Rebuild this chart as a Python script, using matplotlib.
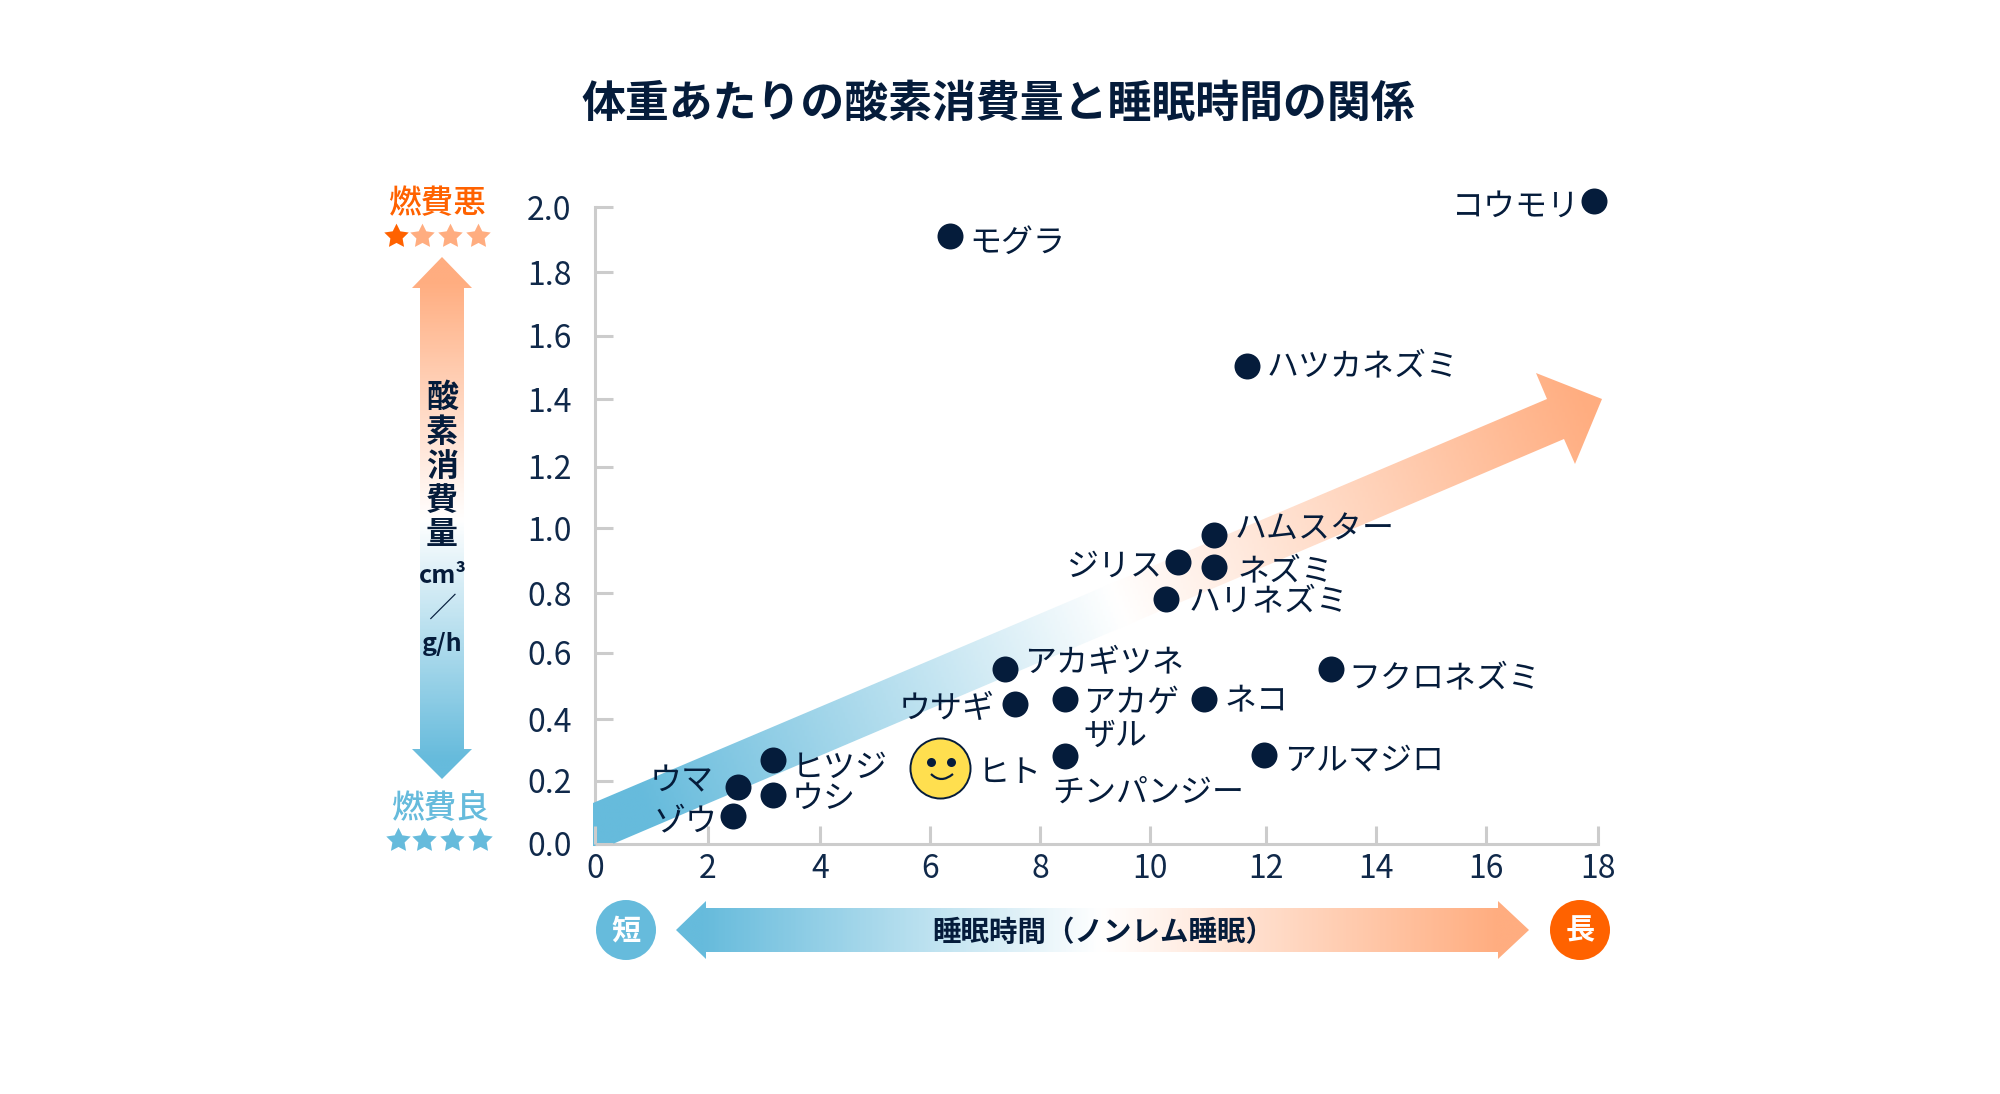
import matplotlib
matplotlib.use("Agg")
import matplotlib.pyplot as plt
import numpy as np
from matplotlib.colors import LinearSegmentedColormap
from matplotlib.patches import Circle, Polygon, PathPatch
from matplotlib.path import Path
from matplotlib.transforms import Affine2D

plt.rcParams['font.family'] = ['Noto Sans CJK JP', 'DejaVu Sans']

# 読み取った値
animals = ['モグラ', 'コウモリ', 'ハツカネズミ', 'ハムスター', 'ネズミ', 'ジリス', 'ハリネズミ',
           'アカギツネ', 'フクロネズミ', 'ウサギ', 'アカゲ\nザル', 'ネコ', 'アルマジロ',
           'チンパンジー', 'ヒツジ', 'ウシ', 'ウマ', 'ゾウ']
sleep = [6.37, 17.93, 11.7, 11.1, 11.1, 10.47, 10.25, 7.36, 13.2, 7.54, 8.44, 10.93, 12.0,
         8.44, 3.2, 3.2, 2.57, 2.48]
oxygen = [1.91, 2.02, 1.50, 0.97, 0.87, 0.885, 0.77, 0.55, 0.55, 0.44, 0.455, 0.455, 0.28,
          0.275, 0.265, 0.155, 0.18, 0.088]
human = (6.2, 0.24)
# 元の図の目盛りは等間隔ではないので、描かれた位置のまま
x_ticks = [0, 2.028, 4.038, 6.012, 7.986, 9.96, 12.04, 14.01, 15.99, 18]
x_labels = ['0', '2', '4', '6', '8', '10', '12', '14', '16', '18']
y_ticks = [0.0, 0.198, 0.392, 0.600, 0.788, 0.992, 1.184, 1.397, 1.595, 1.795, 2.0]
y_labels = ['0.0', '0.2', '0.4', '0.6', '0.8', '1.0', '1.2', '1.4', '1.6', '1.8', '2.0']

# ラベルの位置 (点からのずれ, ピクセル)
offsets = [(19, -7), (-14, -6), (20, 0), (21, 6), (24, -4), (-16, -5), (22, -3),
           (19, 6), (18, -10), (-20, -5), (18, -20), (20, -1), (20, -6),
           (-13, -36), (18, -8), (18, -4), (-25, 5), (-16, -5)]
right_aligned = ['コウモリ', 'ジリス', 'ウサギ', 'ウマ', 'ゾウ']

NAVY = '#051C3B'
TICK = '#10294A'
GREY = '#CCCCCC'
ORANGE = '#FF6200'
PALE = '#FFAD80'
BLUE = '#66BBDC'
grad = LinearSegmentedColormap.from_list('grad', [BLUE, '#FFFFFF', PALE])
star = Path.unit_regular_star(5, innerCircle=0.5)

W, H = 2000, 1094
fig = plt.figure(figsize=(W / 100, H / 100), dpi=100)
ax = fig.add_axes([595 / W, 1 - 844 / H, (1598 - 595) / W, (844 - 207) / H])
px = Affine2D().scale(1, -1).translate(0, H)  # 画像のピクセル座標


def gradient_arrow(pts, start, end):
    # start から end に向かうグラデーションを矢印の形で切り抜く
    pts = np.array(pts, dtype=float)
    x0, y0 = pts.min(axis=0)
    x1, y1 = pts.max(axis=0)
    xx, yy = np.meshgrid(np.linspace(x0, x1, 400), np.linspace(y0, y1, 400))
    d = np.array(end, dtype=float) - np.array(start, dtype=float)
    t = ((xx - start[0]) * d[0] + (yy - start[1]) * d[1]) / (d @ d)
    im = ax.imshow(np.clip(t, 0, 1), cmap=grad, vmin=0, vmax=1, aspect='auto', zorder=1.5,
                   extent=(x0, x1, y1, y0), origin='upper', transform=px)
    im.set_clip_box(fig.bbox)
    im.set_clip_path(Polygon(pts, transform=px))


gradient_arrow([(593, 803), (1547, 399), (1536, 373), (1602, 399), (1575, 464), (1564, 439),
                (608, 846), (593, 846)], (640, 800), (1590, 400))
gradient_arrow([(442, 257), (472, 288), (464, 288), (464, 749), (472, 749), (442, 779),
                (412, 749), (420, 749), (420, 288), (412, 288)], (442, 760), (442, 280))
gradient_arrow([(676, 930), (706, 901), (706, 908), (1498, 908), (1498, 901), (1529, 930),
                (1498, 959), (1498, 952), (706, 952), (706, 959)], (700, 930), (1500, 930))

ax.scatter(sleep, oxygen, s=350, color=NAVY, linewidths=0, zorder=3, clip_on=False)
ax.scatter(*human, s=1870, color='#FFDF4F', edgecolors=NAVY, linewidths=1.4, zorder=3, clip_on=False)

# 顔
ax.scatter([931, 951], [762, 762], s=42, color=NAVY, linewidths=0, transform=px, zorder=4)
mouth = Path([(931, 774), (941, 784), (953, 774)], [Path.MOVETO, Path.CURVE3, Path.CURVE3])
ax.add_patch(PathPatch(mouth, fc='none', ec=NAVY, lw=1.6, transform=px, zorder=4, clip_on=False))

for name, x, y, off in zip(animals, sleep, oxygen, offsets):
    ax.annotate(name, xy=(x, y), xytext=off, textcoords='offset pixels', fontsize=23, color=NAVY,
                ha='right' if name in right_aligned else 'left', va='center', linespacing=1.02,
                zorder=5, annotation_clip=False)
ax.annotate('ヒト', xy=human, xytext=(37, -5), textcoords='offset pixels', fontsize=23, color=NAVY,
            va='center', zorder=5)

ax.set_xlim(0, 18)
ax.set_ylim(0, 2)
ax.set_xticks(x_ticks, x_labels)
ax.set_yticks(y_ticks, y_labels)
ax.tick_params(direction='in', length=13, width=2.2, color=GREY, labelcolor=TICK, labelsize=23)
ax.tick_params(axis='x', pad=6.5)
ax.tick_params(axis='y', pad=17)
for side in ['top', 'right']:
    ax.spines[side].set_visible(False)
for side in ['left', 'bottom']:
    ax.spines[side].set_color(GREY)
    ax.spines[side].set_linewidth(2.2)
    ax.spines[side].set_zorder(1)
ax.patch.set_visible(False)


def label(x, y, s, **kw):
    kw.setdefault('color', NAVY)
    kw.setdefault('ha', 'center')
    kw.setdefault('va', 'center')
    fig.text(x, y, s, transform=px, zorder=6, **kw)


label(998, 104, '体重あたりの酸素消費量と睡眠時間の関係', fontsize=31.6, fontweight='bold')

label(437, 204, '燃費悪', fontsize=23.5, color=ORANGE, fontweight='medium')
label(440, 808, '燃費良', fontsize=23.5, color=BLUE, fontweight='medium')
ax.plot([396], [236], marker=star, ls='', ms=18.5, mew=0, color=ORANGE, transform=px, clip_on=False, zorder=3)
ax.plot([422, 450, 478], [236, 236, 236], marker=star, ls='', ms=18.5, mew=0, color=PALE, transform=px, clip_on=False, zorder=3)
ax.plot([398, 424, 452, 480], [840, 840, 840, 840], marker=star, ls='', ms=18.5, mew=0, color=BLUE, transform=px, clip_on=False, zorder=3)

for ch, y in zip('酸素消費量', [398, 433, 467, 501, 535]):
    label(442, y, ch, fontsize=23, fontweight='bold')
label(443, 576, 'cm³', fontsize=18, fontweight='bold')
label(442, 609, '／', fontsize=20)
label(442, 644, 'g/h', fontsize=18, fontweight='bold')

label(932, 933, '睡眠時間（ノンレム睡眠）', fontsize=20.5, fontweight='bold', ha='left')

for cx, ch, col in [(626, '短', BLUE), (1580, '長', ORANGE)]:
    ax.add_patch(Circle((cx, 930), 30, fc=col, ec='none', transform=px, clip_on=False, zorder=3))
    label(cx, 930, ch, fontsize=21, color='white', fontweight='bold')

fig.savefig('out.png', dpi=100)
